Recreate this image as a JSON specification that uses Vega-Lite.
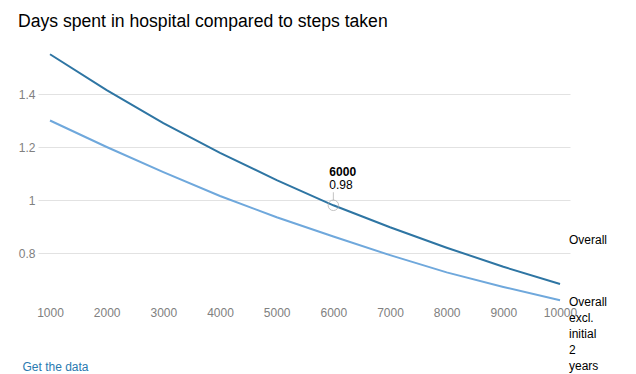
{
  "$schema": "https://vega.github.io/schema/vega-lite/v6.json",
  "width": 532,
  "height": 265,
  "autosize": "none",
  "padding": {"left": 38, "top": 41, "right": 66, "bottom": 68},
  "background": "white",
  "config": {
    "font": "Liberation Sans",
    "view": {"stroke": null}
  },
  "title": {
    "text": "Days spent in hospital compared to steps taken",
    "anchor": "start",
    "frame": "group",
    "fontSize": 17.6,
    "fontWeight": "normal",
    "color": "#000000",
    "dx": -20,
    "offset": 10
  },
  "datasets": {
    "series": [
      {"steps": 1000, "days": 1.55, "series": "Overall"},
      {"steps": 2000, "days": 1.415, "series": "Overall"},
      {"steps": 3000, "days": 1.29, "series": "Overall"},
      {"steps": 4000, "days": 1.178, "series": "Overall"},
      {"steps": 5000, "days": 1.075, "series": "Overall"},
      {"steps": 6000, "days": 0.98, "series": "Overall"},
      {"steps": 7000, "days": 0.897, "series": "Overall"},
      {"steps": 8000, "days": 0.82, "series": "Overall"},
      {"steps": 9000, "days": 0.748, "series": "Overall"},
      {"steps": 10000, "days": 0.683, "series": "Overall"},
      {"steps": 1000, "days": 1.3, "series": "Overall excl. initial 2 years"},
      {"steps": 2000, "days": 1.2, "series": "Overall excl. initial 2 years"},
      {"steps": 3000, "days": 1.105, "series": "Overall excl. initial 2 years"},
      {"steps": 4000, "days": 1.015, "series": "Overall excl. initial 2 years"},
      {"steps": 5000, "days": 0.935, "series": "Overall excl. initial 2 years"},
      {"steps": 6000, "days": 0.862, "series": "Overall excl. initial 2 years"},
      {"steps": 7000, "days": 0.792, "series": "Overall excl. initial 2 years"},
      {"steps": 8000, "days": 0.727, "series": "Overall excl. initial 2 years"},
      {"steps": 9000, "days": 0.672, "series": "Overall excl. initial 2 years"},
      {"steps": 10000, "days": 0.622, "series": "Overall excl. initial 2 years"}
    ],
    "highlight": [
      {"steps": 6000, "days": 0.98, "label": "6000", "value": "0.98"}
    ],
    "labelOverall": [
      {"steps": 10000, "days": 0.683, "text": "Overall"}
    ],
    "labelExcl": [
      {"steps": 10000, "days": 0.622, "text": ["Overall", "excl.", "initial", "2", "years"]}
    ]
  },
  "encoding": {
    "x": {
      "field": "steps",
      "type": "quantitative",
      "scale": {"domain": [788, 10176], "nice": false, "zero": false},
      "axis": {
        "values": [1000, 2000, 3000, 4000, 5000, 6000, 7000, 8000, 9000, 10000],
        "format": "d",
        "grid": false,
        "domain": false,
        "ticks": false,
        "labelColor": "#808080",
        "labelFontSize": 12,
        "labelPadding": 1,
        "title": "Get the data",
        "titleColor": "#2a7ab0",
        "titleFontSize": 12,
        "titleFontWeight": "normal",
        "titleAlign": "left",
        "titleAnchor": "start",
        "titleBaseline": "middle",
        "titleX": -16,
        "titleY": 60
      }
    },
    "y": {
      "field": "days",
      "type": "quantitative",
      "scale": {"domain": [0.6, 1.6], "nice": false, "zero": false},
      "axis": {
        "values": [0.8, 1, 1.2, 1.4],
        "format": "~g",
        "grid": true,
        "gridColor": "#e2e2e2",
        "domain": false,
        "ticks": false,
        "labelColor": "#808080",
        "labelFontSize": 12,
        "labelPadding": 3,
        "title": null
      }
    }
  },
  "layer": [
    {
      "data": {"name": "series"},
      "mark": {"type": "line", "strokeWidth": 2},
      "encoding": {
        "color": {
          "field": "series",
          "type": "nominal",
          "scale": {"domain": ["Overall", "Overall excl. initial 2 years"], "range": ["#2e75a3", "#6fa8dc"]},
          "legend": null
        }
      }
    },
    {
      "data": {"name": "highlight"},
      "mark": {"type": "point", "shape": "circle", "size": 110, "filled": false, "stroke": "#aaaaaa", "strokeWidth": 1}
    },
    {
      "data": {"name": "highlight"},
      "mark": {"type": "tick", "orient": "vertical", "size": 8, "thickness": 1, "color": "#aaaaaa", "yOffset": -9}
    },
    {
      "data": {"name": "highlight"},
      "mark": {"type": "text", "align": "left", "baseline": "middle", "dx": -4, "dy": -33, "fontSize": 12, "fontWeight": "bold", "color": "#000000"},
      "encoding": {"text": {"field": "label"}}
    },
    {
      "data": {"name": "highlight"},
      "mark": {"type": "text", "align": "left", "baseline": "middle", "dx": -4, "dy": -20, "fontSize": 12, "color": "#000000"},
      "encoding": {"text": {"field": "value"}}
    },
    {
      "data": {"name": "labelOverall"},
      "mark": {"type": "text", "align": "left", "baseline": "middle", "dx": 9, "dy": -44, "fontSize": 12, "color": "#000000"},
      "encoding": {"text": {"field": "text"}}
    },
    {
      "data": {"name": "labelExcl"},
      "mark": {"type": "text", "align": "left", "baseline": "top", "dx": 9, "dy": -3, "fontSize": 12, "lineHeight": 16, "color": "#000000"},
      "encoding": {"text": {"field": "text"}}
    }
  ]
}
